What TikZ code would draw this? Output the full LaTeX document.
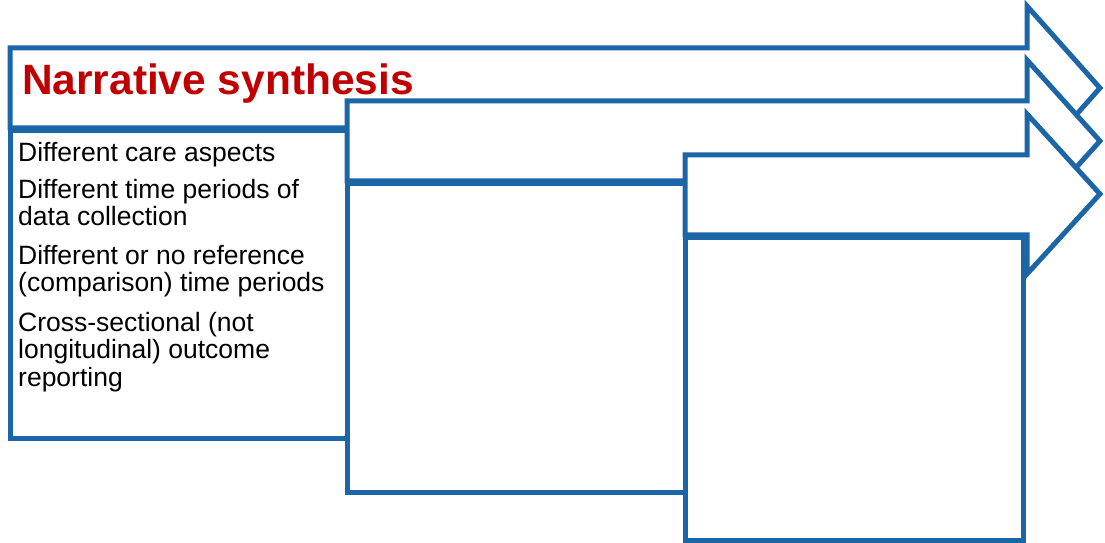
\documentclass[tikz,border=0pt]{standalone}
\usepackage{fontspec}
\setmainfont{Liberation Sans}
\definecolor{frameblue}{RGB}{28,102,168}
\definecolor{titlered}{RGB}{192,0,0}
\tikzset{
  stage/.style={draw=frameblue, fill=white, line width=5bp, line join=miter},
  detail/.style={draw=frameblue, fill=white, line width=5bp},
  itemtext/.style={anchor=base west, inner sep=0pt, font=\fontsize{26.6}{28}\selectfont},
}
\begin{document}
\begin{tikzpicture}[x=1bp, y=-1bp]
  \useasboundingbox (0,0) rectangle (1105,543);
  % first stage: arrow and its box
  \draw[stage] (10,48) -- (1027,48) -- (1027,6) -- (1100,88) -- (1027,170) -- (1027,128) -- (10,128) -- cycle;
  \draw[detail] (10,131) rectangle (347,438);
  % second stage
  \draw[stage] (347,101) -- (1027,101) -- (1027,60) -- (1100,141) -- (1027,222) -- (1027,181) -- (347,181) -- cycle;
  \draw[detail] (347,184) rectangle (685,492);
  % third stage
  \draw[stage] (685,155) -- (1027,155) -- (1027,114) -- (1100,194) -- (1027,274) -- (1027,235) -- (685,235) -- cycle;
  \draw[detail] (685,238) rectangle (1023,540);
  % heading
  \node[anchor=base west, inner sep=0pt, text=titlered, font=\fontsize{42.6}{48}\selectfont\bfseries] (title) at (22,95) {Narrative synthesis};
  % items of the first box
  \node[itemtext] (l1) at (18,162) {Different care aspects};
  \node[itemtext] (l2) at (18,199) {Different time periods of};
  \node[itemtext] (l3) at (18,226) {data collection};
  \node[itemtext] (l4) at (18,265) {Different or no reference};
  \node[itemtext] (l5) at (18,292) {(comparison) time periods};
  \node[itemtext] (l6) at (18,332) {Cross-sectional (not};
  \node[itemtext] (l7) at (18,359) {longitudinal) outcome};
  \node[itemtext] (l8) at (18,387) {reporting};
\end{tikzpicture}
\end{document}
